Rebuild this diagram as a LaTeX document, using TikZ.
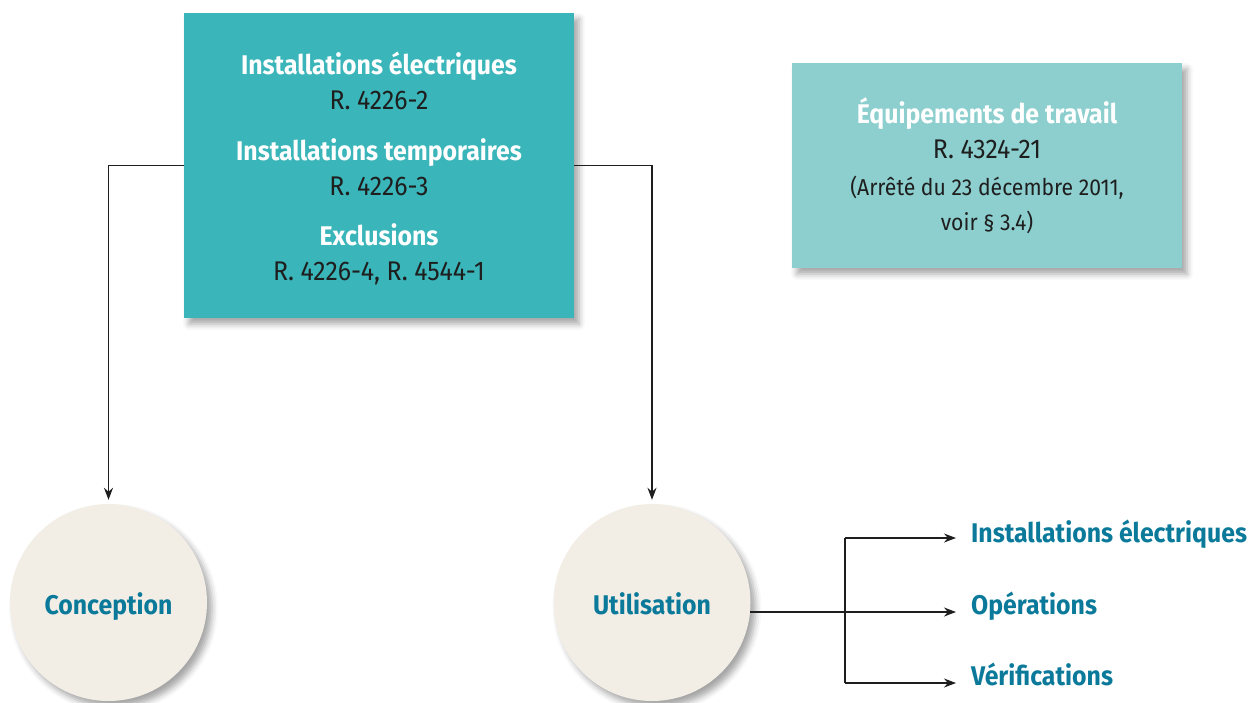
\documentclass[tikz,border=0pt]{standalone}
\usepackage{fontspec}
\setmainfont{Fira Sans}[FakeStretch=0.92]
\usetikzlibrary{arrows.meta,shadows.blur}
\definecolor{tealbox}{HTML}{3AB5B9}
\definecolor{lightbox}{HTML}{8CCFCE}
\definecolor{circfill}{HTML}{F2EEE6}
\definecolor{labelblue}{HTML}{0B7A9A}
\definecolor{ink}{HTML}{1E1E1E}
\tikzset{
  softshadow/.style={blur shadow={shadow xshift=5pt,shadow yshift=-6pt,shadow opacity=35,shadow blur radius=6pt}},
  lawbox/.style={rectangle,inner sep=0pt,minimum width=390pt,align=center,softshadow},
  phase/.style={circle,fill=circfill,minimum size=197pt,inner sep=0pt,softshadow,
    text height=24pt,text depth=0pt,
    text=labelblue,font=\fontsize{27}{30}\selectfont\bfseries},
  outlabel/.style={anchor=base west,inner sep=0pt,text=labelblue,font=\fontsize{27}{30}\selectfont\bfseries},
  conn/.style={line width=1.2pt,draw=ink},
  arr/.style={conn,-{Stealth[length=12pt,width=9pt]}},
}
\begin{document}
\begin{tikzpicture}[x=1pt,y=-1pt]
\useasboundingbox (0,0) rectangle (1258,702);
\clip (0,0) rectangle (1258,702);

% regulatory boxes
\node[lawbox,fill=tealbox,minimum height=305pt,text=ink,
      font=\fontsize{27}{35}\selectfont] (reg) at (379,165.5)
  {\rule{0pt}{28pt}{\color{white}\bfseries Installations électriques}\\R. 4226-2\\[16pt]
   {\color{white}\bfseries Installations temporaires}\\R. 4226-3\\[15pt]
   {\color{white}\bfseries Exclusions}\\R. 4226-4, R. 4544-1};

\node[lawbox,fill=lightbox,minimum height=205pt,text=ink,
      font=\fontsize{27}{35}\selectfont] (equip) at (987,165.5)
  {\rule{0pt}{27pt}{\color{white}\bfseries Équipements de travail}\\R. 4324-21\\[2pt]
   {\fontsize{23}{33}\selectfont (Arrêté du 23 décembre 2011,}\\
   {\fontsize{23}{33}\selectfont voir § 3.4)}};

% phases
\node[phase] (conc) at (108.5,602.5) {Conception};
\node[phase] (util) at (652,602.5) {Utilisation};

% connectors from the regulatory box
\draw[arr,shorten >=4pt] (reg.west) -| (conc.north);
\draw[arr,shorten >=4pt] (reg.east) -| (util.north);

% outputs of the use phase
\node[outlabel] (oinst) at (971,542) {Installations électriques};
\node[outlabel] (oops) at (971,614) {Opérations};
\node[outlabel] (over) at (971,685) {Vérifications};

\coordinate (uout) at (750,612);
\coordinate (btop) at (845,538);
\coordinate (bbot) at (845,683);
\coordinate (einst) at (956,538);
\coordinate (eops) at (956,612);
\coordinate (ever) at (956,683);

\draw[conn] (btop) -- (bbot);
\draw[arr] (btop) -- (einst);
\draw[arr] (uout) -- (eops);
\draw[arr] (bbot) -- (ever);
\end{tikzpicture}
\end{document}
